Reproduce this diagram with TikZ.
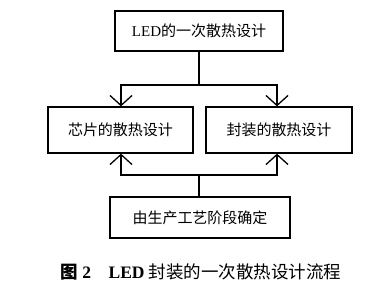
\documentclass[tikz,border=0pt]{standalone}
\usepackage{fontspec}
\setmainfont{Liberation Serif}
\newfontfamily\cjk{Noto Sans CJK SC}
\usetikzlibrary{arrows.meta}
\begin{document}
\begin{tikzpicture}[x=1pt,y=-1pt,
  box/.style={draw,line width=1.3pt,minimum height=40pt,inner sep=0pt,font=\fontsize{15}{17}\selectfont},
  conn/.style={line width=1.3pt},
  arr/.style={conn,-{Straight Barb[length=10pt,width=22pt,line width=1.3pt]}}]
\useasboundingbox (0,0) rectangle (384,295);
\node[box,minimum width=168pt] (top) at (199,31) {LED{\cjk 的一次散热设计}};
\node[box,minimum width=145pt,minimum height=46pt] (left) at (120.5,130) {\cjk 芯片的散热设计};
\node[box,minimum width=146pt,minimum height=46pt] (right) at (279,130) {\cjk 封装的散热设计};
\node[box,minimum width=180pt,minimum height=41pt] (bot) at (200,217.5) {\cjk 由生产工艺阶段确定};
\coordinate (j1) at (199,85);
\coordinate (j2) at (199,175);
\draw[conn] (top.south -| j1) -- (j1);
\draw[arr] (j1) -| (left.north -| 121,0);
\draw[arr] (j1) -| (right.north -| 277,0);
\draw[conn] (bot.north -| j2) -- (j2);
\draw[arr] (j2) -| (left.south -| 121,0);
\draw[arr] (j2) -| (right.south -| 277,0);
\node[font=\fontsize{17.5}{20}\selectfont] (cap) at (201,272) {{\cjk\bfseries 图} \textbf{2}\quad \textbf{LED} {\cjk 封装的一次散热设计流程}};
\end{tikzpicture}
\end{document}
